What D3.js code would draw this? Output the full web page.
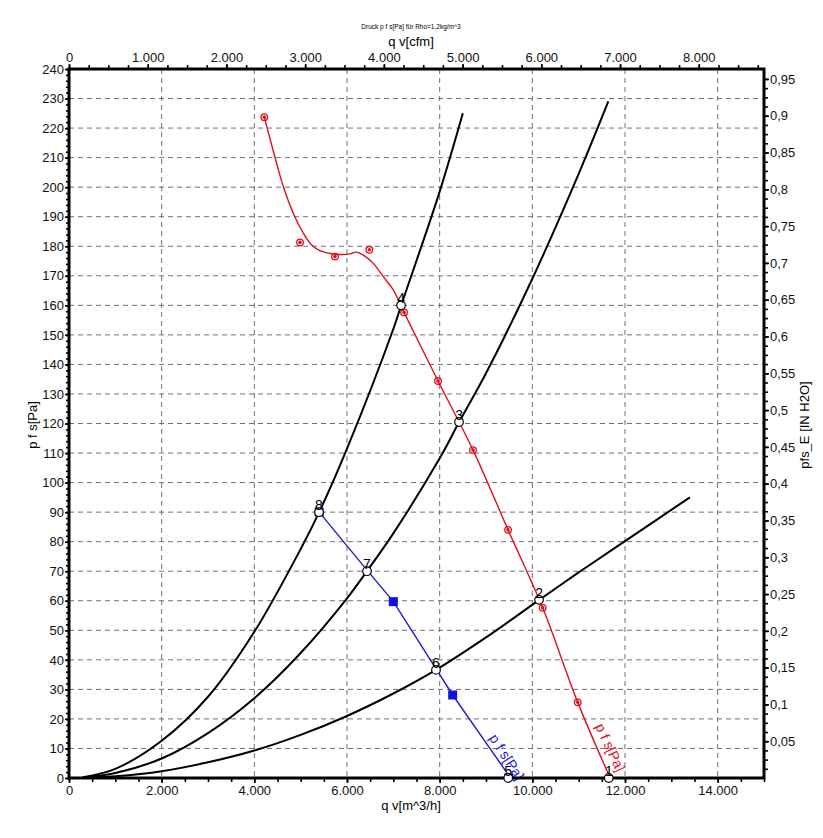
<!DOCTYPE html>
<html><head><meta charset="utf-8">
<script src="https://cdn.jsdelivr.net/npm/d3@7"></script>
<style>
body{margin:0;background:#fff;}
svg text{font-family:"Liberation Sans",Arial,sans-serif;}
</style></head>
<body><svg id="c" width="823" height="838"></svg>
<script>
// ---- data (q in m^3/h, p in Pa) ----
const sysA_q = [300, 1000, 2000, 3000, 4000, 5000, 5400, 6000, 7000, 7170, 8000, 8500];
const sysA_p = [0.3, 3.1, 12.6, 27.5, 49.5, 77.5, 90, 111.5, 152, 160, 198.5, 225];
const sysB_q = [300, 1000, 2000, 3000, 4000, 5000, 6000, 6430, 7000, 8000, 8420, 9000, 10000, 11000, 11640];
const sysB_p = [0.2, 1.7, 6.6, 15.2, 27, 42.3, 60.8, 70, 82.8, 108.2, 120.5, 137, 169, 204.5, 229];
const sysC_q = [300, 1000, 2000, 3000, 4000, 5000, 6000, 7000, 7920, 9000, 10150, 11000, 12000, 13400];
const sysC_p = [0.05, 0.6, 2.3, 5.3, 9.3, 14.6, 21, 28.6, 36.6, 47.6, 60.3, 69.6, 80.2, 95];

const red_q = [4215, 4403, 4626, 4842, 5058, 5238, 5418, 5706, 6065, 6195, 6352, 6568, 6784, 7000, 7231, 7965, 8720, 9476, 10224, 10980, 11680];
const red_p = [223.7, 212.6, 200.2, 191.1, 184.4, 180.4, 178.5, 177.4, 177.4, 178, 177, 174.2, 169.7, 165.2, 157.6, 134.4, 111, 84, 57.6, 25.6, 0];
const redMark_q = [4215, 4986, 5741, 6482, 7231, 7965, 8720, 9476, 10224, 10980];
const redMark_p = [223.7, 181.3, 176.5, 178.8, 157.6, 134.4, 111, 84, 57.6, 25.6];

const blue_q = [5400, 6440, 7000, 7936, 8281, 9530];
const blue_p = [90, 70.2, 59.7, 36.6, 28.1, 0];
const blueMark_q = [5400, 7000, 8281, 9490];
const blueMark_p = [90, 59.7, 28.1, 0];

const op_labels = ["1", "2", "3", "4", "5", "6", "7", "8"];
const op_q = [11650, 10145, 8418, 7166, 9480, 7921, 6432, 5396];
const op_p = [0, 60.3, 120.5, 160, 0, 36.6, 70, 90];

const xTicksMajor = [0, 2000, 4000, 6000, 8000, 10000, 12000, 14000];
const yTicksMajor = d3.range(0, 241, 10);
const cfmTicks = [0, 1000, 2000, 3000, 4000, 5000, 6000, 7000, 8000];
const inTicks = [0.05,0.1,0.15,0.2,0.25,0.3,0.35,0.4,0.45,0.5,0.55,0.6,0.65,0.7,0.75,0.8,0.85,0.9,0.95];

const titleText = "Druck p f s[Pa] für Rho=1,2kg/m^3";
const M3H_PER_CFM = 1.699, PA_PER_IN = 249.089;

// ---- layout ----
const L = 69, T = 69, R = 764, B = 778;
const svg = d3.select("#c");
const x = d3.scaleLinear().domain([0, 15000]).range([L, R]);
const y = d3.scaleLinear().domain([0, 240]).range([B, T]);
const xT = d3.scaleLinear().domain([0, 15000 / M3H_PER_CFM]).range([L, R]);
const yR = d3.scaleLinear().domain([0, 240 / PA_PER_IN]).range([B, T]);
const de = d3.formatLocale({decimal: ",", thousands: ".", grouping: [3], currency: ["", "€"]});
const fInt = de.format(",.0f");
const fDec = v => String(+v.toFixed(2)).replace(".", ",");

svg.append("defs").append("clipPath").attr("id", "clip")
  .append("rect").attr("x", L).attr("y", T).attr("width", R - L).attr("height", B - T);

// grid
const grid = svg.append("g").attr("stroke", "#707070").attr("stroke-width", 1).attr("stroke-dasharray", "5,4");
xTicksMajor.filter(d => d > 0).forEach(d => grid.append("line").attr("x1", x(d)).attr("x2", x(d)).attr("y1", T).attr("y2", B));
yTicksMajor.filter(d => d > 0 && d < 240).forEach(d => grid.append("line").attr("y1", y(d)).attr("y2", y(d)).attr("x1", L).attr("x2", R));

const plot = svg.append("g").attr("clip-path", "url(#clip)");
const zip = (a, b) => a.map((v, i) => [v, b[i]]);
const line = d3.line().x(d => x(d[0])).y(d => y(d[1])).curve(d3.curveCatmullRom.alpha(0.5));
const lin = d3.line().x(d => x(d[0])).y(d => y(d[1]));

[[sysA_q, sysA_p], [sysB_q, sysB_p], [sysC_q, sysC_p]].forEach(([q, p]) =>
  plot.append("path").attr("d", line(zip(q, p))).attr("fill", "none").attr("stroke", "#000").attr("stroke-width", 2));

plot.append("path").attr("d", line(zip(red_q, red_p))).attr("fill", "none").attr("stroke", "#e0101a").attr("stroke-width", 1.4);
plot.append("path").attr("d", lin(zip(blue_q, blue_p))).attr("fill", "none").attr("stroke", "#1c1cd8").attr("stroke-width", 1.4);

// red markers
zip(redMark_q, redMark_p).forEach(d => {
  plot.append("circle").attr("cx", x(d[0])).attr("cy", y(d[1])).attr("r", 3.3).attr("fill", "none").attr("stroke", "#e0101a").attr("stroke-width", 1.3);
  plot.append("circle").attr("cx", x(d[0])).attr("cy", y(d[1])).attr("r", 1.8).attr("fill", "#e0101a");
});
// blue squares
zip(blueMark_q, blueMark_p).forEach(d => {
  plot.append("rect").attr("x", x(d[0]) - 4.5).attr("y", y(d[1]) - 4.5).attr("width", 9).attr("height", 9).attr("fill", "#1010e0");
});

// rotated curve labels
svg.append("text").attr("transform", `translate(${x(8950) + 5},${y(13.5)}) rotate(57)`)
  .attr("font-size", 14).attr("fill", "#1c1cd8").text("p f s[Pa]");
svg.append("text").attr("transform", `translate(${x(11200) + 7},${y(17.5)}) rotate(65)`)
  .attr("font-size", 14).attr("fill", "#e0101a").text("p f s[Pa]");

// axes
const gx = svg.append("g").attr("transform", `translate(0,${B})`);
gx.call(d3.axisBottom(x).tickValues(d3.range(0, 15001, 500)).tickSize(4).tickFormat(""));
gx.call(g => g.append("g").call(d3.axisBottom(x).tickValues(xTicksMajor).tickSize(5).tickFormat(fInt)));
const gy = svg.append("g").attr("transform", `translate(${L},0)`);
gy.call(d3.axisLeft(y).tickValues(d3.range(0, 241, 2)).tickSize(3).tickFormat(""));
gy.call(g => g.append("g").call(d3.axisLeft(y).tickValues(yTicksMajor).tickSize(4).tickPadding(1).tickFormat(d => d)));
const gt = svg.append("g").attr("transform", `translate(0,${T})`);
gt.call(d3.axisTop(xT).tickValues(d3.range(0, 8801, 250)).tickSize(4).tickFormat(""));
gt.call(g => g.append("g").call(d3.axisTop(xT).tickValues(cfmTicks).tickSize(5).tickPadding(2).tickFormat(fInt)));
const gr = svg.append("g").attr("transform", `translate(${R},0)`);
gr.call(d3.axisRight(yR).tickValues(d3.range(0.0125, 0.96, 0.0125)).tickSize(4).tickFormat(""));
gr.call(g => g.append("g").call(d3.axisRight(yR).tickValues(inTicks).tickSize(5).tickPadding(1).tickFormat(fDec)));

svg.selectAll(".tick line").attr("stroke", "#000").attr("stroke-width", 1.6);
svg.selectAll(".domain").remove();
svg.selectAll(".tick text").attr("font-size", 13).attr("fill", "#111").attr("font-family", "Liberation Sans, Arial, sans-serif");

// frame
svg.append("rect").attr("x", L).attr("y", T).attr("width", R - L).attr("height", B - T)
  .attr("fill", "none").attr("stroke", "#000").attr("stroke-width", 3);

// operating points
op_labels.forEach((lab, i) => {
  svg.append("circle").attr("cx", x(op_q[i])).attr("cy", y(op_p[i])).attr("r", 4.3)
    .attr("fill", "#fff").attr("stroke", "#000").attr("stroke-width", 1.2);
  svg.append("text").attr("x", x(op_q[i])).attr("y", y(op_p[i]) - 2).attr("text-anchor", "middle")
    .attr("font-size", 14).attr("fill", "#000").text(lab);
});

// titles
svg.append("text").attr("x", 411).attr("y", 29).attr("text-anchor", "middle").attr("font-size", 6.5).text(titleText);
svg.append("text").attr("x", 411).attr("y", 46).attr("text-anchor", "middle").attr("font-size", 13).text("q v[cfm]");
svg.append("text").attr("x", 411).attr("y", 810).attr("text-anchor", "middle").attr("font-size", 13).text("q v[m^3/h]");
svg.append("text").attr("transform", "translate(37,425) rotate(-90)").attr("text-anchor", "middle").attr("font-size", 13).text("p f s[Pa]");
svg.append("text").attr("transform", "translate(809,425) rotate(-90)").attr("text-anchor", "middle").attr("font-size", 13).text("pfs_E [IN H2O]");
</script></body></html>
